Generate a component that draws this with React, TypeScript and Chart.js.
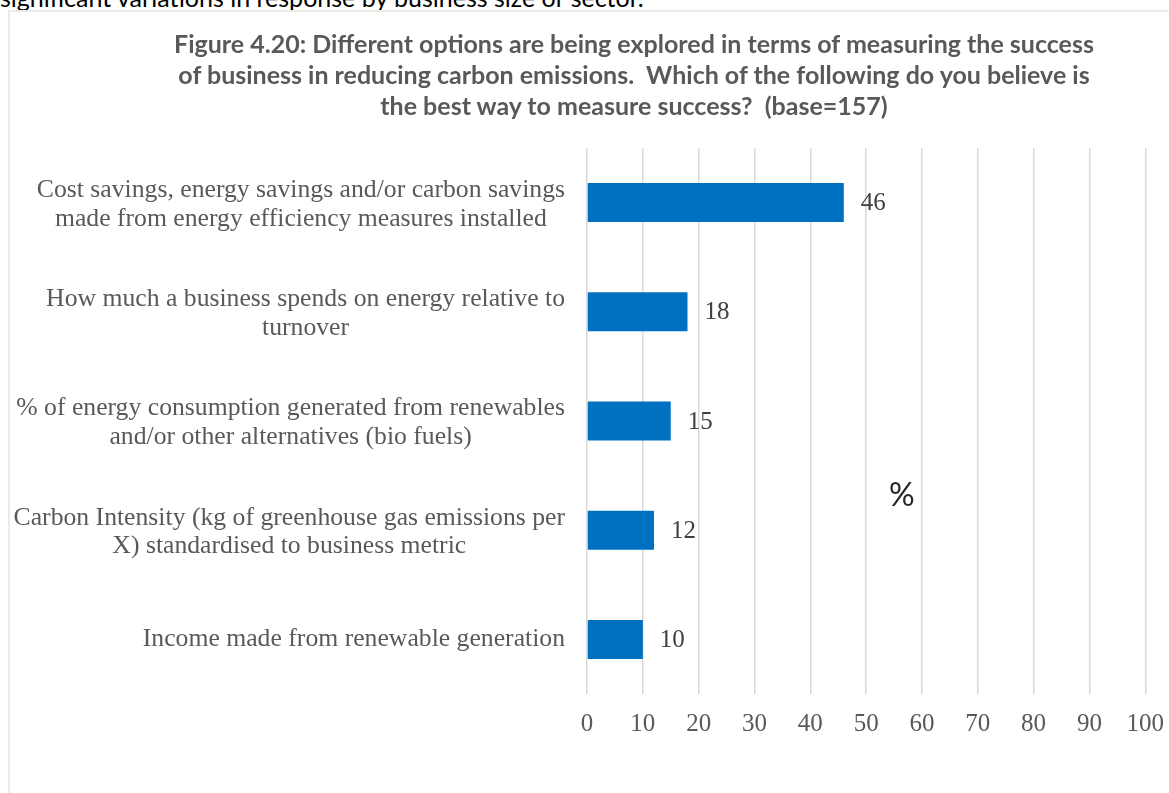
import React, { useEffect, useRef } from "react";
import { Chart, registerables } from "chart.js";

Chart.register(...registerables);

const titleLines = [
  "Figure 4.20: Different options are being explored in terms of measuring the success",
  "of business in reducing carbon emissions.  Which of the following do you believe is",
  "the best way to measure success?  (base=157)",
];

const categories: string[][] = [
  ["Cost savings, energy savings and/or carbon savings", "made from energy efficiency measures installed"],
  ["How much a business spends on energy relative to", "turnover"],
  ["% of energy consumption generated from renewables", "and/or other alternatives (bio fuels)"],
  ["Carbon Intensity (kg of greenhouse gas emissions per", "X) standardised to business metric"],
  ["Income made from renewable generation"],
];

const values = [46, 18, 15, 12, 10];

const xMin = 0;
const xMax = 100;
const xStep = 10;

const SERIF = '"Liberation Serif", "Times New Roman", serif';
const SANS = 'Lato, "Open Sans", sans-serif';

const labelPlugin = {
  id: "customLabels",
  afterDraw(chart: any) {
    const ctx = chart.ctx;
    const yScale = chart.scales.y;
    const xScale = chart.scales.x;
    ctx.save();
    ctx.font = `25.7px ${SERIF}`;
    ctx.textBaseline = "middle";
    const rightEdge = chart.chartArea.left - 22;
    const lineH = 28.5;
    categories.forEach((lines, i) => {
      const cy = yScale.getPixelForValue(i) + (lines.length > 1 ? 2 : 0);
      let w = 0;
      lines.forEach((l) => (w = Math.max(w, ctx.measureText(l).width)));
      const cx = rightEdge - w / 2;
      ctx.fillStyle = "#595959";
      ctx.textAlign = "center";
      const start = cy - ((lines.length - 1) * lineH) / 2;
      lines.forEach((l, k) => ctx.fillText(l, cx, start + k * lineH));
    });
    ctx.font = `25px ${SERIF}`;
    const meta = chart.getDatasetMeta(0);
    ctx.fillStyle = "#404040";
    ctx.textAlign = "left";
    values.forEach((v, i) => {
      const bar = meta.data[i];
      ctx.fillText(String(v), xScale.getPixelForValue(v) + 17, bar.y + 1);
    });
    ctx.restore();
  },
};

export default function App() {
  const canvasRef = useRef<HTMLCanvasElement | null>(null);

  useEffect(() => {
    if (!canvasRef.current) return;
    const chart = new Chart(canvasRef.current, {
      type: "bar",
      data: {
        labels: categories.map((c) => c.join(" ")),
        datasets: [
          {
            data: values,
            backgroundColor: "#0070C0",
            borderWidth: 0,
            barPercentage: 0.357,
            categoryPercentage: 1.0,
          },
        ],
      },
      options: {
        indexAxis: "y",
        animation: false,
        responsive: true,
        maintainAspectRatio: false,
        layout: { padding: { left: 570, right: 29, top: 137, bottom: 57 } },
        plugins: {
          legend: { display: false },
          tooltip: { enabled: false },
          title: { display: false },
        },
        scales: {
          x: {
            min: xMin,
            max: xMax,
            ticks: {
              stepSize: xStep,
              color: "#595959",
              font: { family: SERIF, size: 25 },
              padding: 15,
            },
            grid: { color: "#d9d9d9", lineWidth: 1.5, drawTicks: false },
            border: { display: false },
          },
          y: {
            ticks: { display: false },
            grid: { display: false },
            border: { display: false },
          },
        },
      },
      plugins: [labelPlugin],
    });
    return () => chart.destroy();
  }, []);

  return (
    <div
      style={{
        position: "fixed",
        left: 0,
        top: 0,
        width: 1169,
        height: 793,
        overflow: "hidden",
        background: "#ffffff",
      }}
    >
      <div
        style={{
          position: "absolute",
          left: 0,
          top: -18,
          fontFamily: SANS,
          fontSize: 25,
          lineHeight: "30px",
          color: "#000000",
          whiteSpace: "nowrap",
        }}
      >
        significant variations in response by business size or sector.
      </div>
      <div
        style={{
          position: "absolute",
          left: 8,
          top: 10,
          width: 1200,
          height: 900,
          border: "2px solid #ecece4",
          boxSizing: "border-box",
        }}
      />
      <div style={{ position: "absolute", left: 9, top: 11, width: 1170, height: 800 }}>
        <canvas ref={canvasRef} />
      </div>
      <div
        style={{
          position: "absolute",
          left: 34,
          top: 28,
          width: 1200,
          textAlign: "center",
          fontFamily: SANS,
          fontWeight: "bold",
          fontSize: 25,
          lineHeight: "31px",
          color: "#595959",
          whiteSpace: "pre",
        }}
      >
        {titleLines.map((l, i) => (
          <div key={i}>{l}</div>
        ))}
      </div>
      <div
        style={{
          position: "absolute",
          left: 889,
          top: 474,
          fontFamily: SANS,
          fontSize: 32,
          color: "#262626",
          lineHeight: "40px",
        }}
      >
        %
      </div>
    </div>
  );
}
